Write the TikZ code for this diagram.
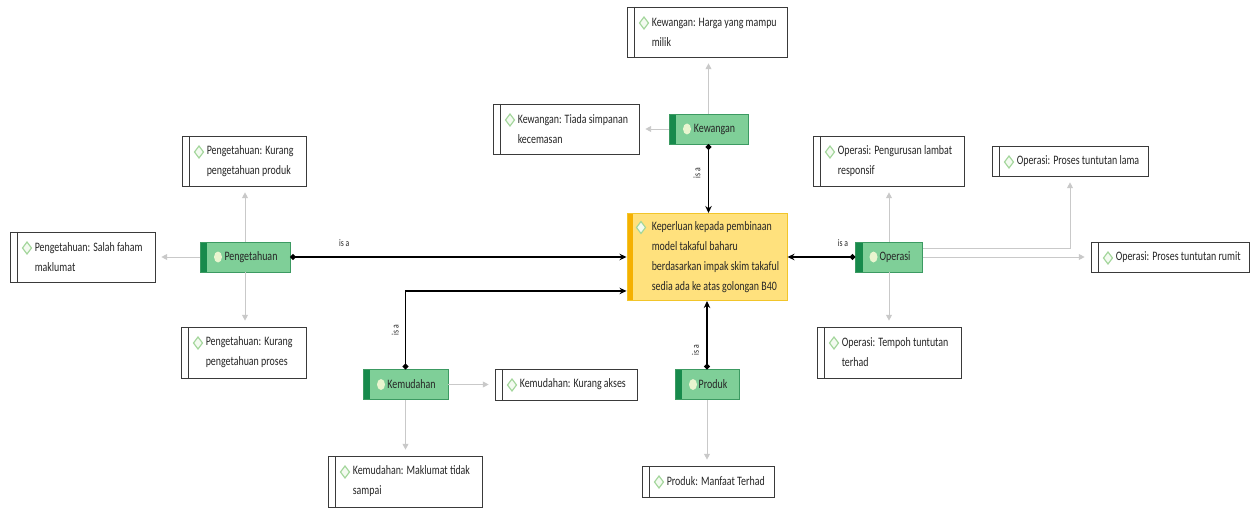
\documentclass[tikz,border=0pt]{standalone}
\usepackage{fontspec}
\setmainfont{Carlito}[FakeStretch=0.77]
\usetikzlibrary{arrows.meta}

\definecolor{catfill}{HTML}{7FCF98}
\definecolor{catdark}{HTML}{178A4C}
\definecolor{catline}{HTML}{3C9A62}
\definecolor{caticon}{HTML}{E9F5CF}
\definecolor{corefill}{HTML}{FFE17D}
\definecolor{coredark}{HTML}{F5B000}
\definecolor{coreline}{HTML}{F2C52A}
\definecolor{leafline}{HTML}{3A3A3A}
\definecolor{diamline}{HTML}{A3D69B}
\definecolor{diamfill}{HTML}{F3FAF0}
\definecolor{subline}{HTML}{C9C9C9}
\definecolor{txt}{HTML}{262626}

\begin{document}
\begin{tikzpicture}[x=0.03cm, y=-0.03cm,
  font=\fontsize{11}{17}\selectfont, text=txt,
  diam/.style={draw=diamline, fill=diamfill, line width=1pt},
  leaftext/.style={anchor=west, xshift=25*\pw, align=left, inner sep=0pt, text=txt},
  leaf/.style={draw=leafline, fill=white, line width=0.8pt, inner sep=0pt, minimum height=30*\pw,
    path picture={
      \draw[leafline, line width=0.6pt] ([xshift=7*\pw]path picture bounding box.north west) -- ([xshift=7*\pw]path picture bounding box.south west);
      \draw[diam] ([shift={(17*\pw,-10*\pw)}]path picture bounding box.north west) -- ++(4.5*\pw,-6*\pw) -- ++(-4.5*\pw,-6*\pw) -- ++(-4.5*\pw,6*\pw) -- cycle;
    }},
  grp/.style={draw=catline, fill=catfill, line width=0.6pt, minimum height=30*\pw, inner xsep=0pt,
    execute at begin node={\hspace*{0.36cm}},
    path picture={
      \fill[catdark] (path picture bounding box.north west) rectangle ([xshift=7*\pw]path picture bounding box.south west);
      \fill[caticon] ([xshift=18*\pw]path picture bounding box.west) ellipse [x radius=4*\pw, y radius=5.5*\pw];
    }},
  core/.style={draw=coreline, fill=corefill, line width=0.8pt, minimum width=160*\pw, minimum height=87*\pw,
    path picture={
      \fill[coredark] (path picture bounding box.north west) rectangle ([xshift=6*\pw]path picture bounding box.south west);
      \draw[diam] ([shift={(14*\pw,-8*\pw)}]path picture bounding box.north west) -- ++(4.5*\pw,-6*\pw) -- ++(-4.5*\pw,-6*\pw) -- ++(-4.5*\pw,6*\pw) -- cycle;
    }},
  isa/.style={draw=black, line width=1.6pt, {Circle[length=4.5pt]}-{Stealth[length=6pt,width=5.5pt]}},
  isalbl/.style={font=\fontsize{8.5}{9}\selectfont, text=txt, inner sep=1pt},
  sub/.style={draw=subline, line width=0.8pt, shorten >=5pt, -{Triangle[length=5pt,width=5pt]}}]
% one pixel of the reference
\def\pw{0.03cm}

\useasboundingbox[fill=white] (0,0) rectangle (1251,510);

% Centre node
\node[core] (core) at (707,257) {};
\node[leaftext] (coret) at (core.west) {Keperluan kepada pembinaan\\model takaful baharu\\berdasarkan impak skim takaful\\sedia ada ke atas golongan B40};

% Groups
\node[grp, minimum width=79*\pw] (kew) at (708.5,129) {Kewangan};
\node[grp, minimum width=90*\pw] (pen) at (245,257) {Pengetahuan};
\node[grp, minimum width=67*\pw] (ope) at (889,257) {Operasi};
\node[grp, minimum width=85*\pw] (kem) at (405.5,384.5) {Kemudahan};
\node[grp, minimum width=64*\pw] (pro) at (707,384.5) {Produk};

% Leaves
\node[leaf, minimum width=160*\pw, minimum height=50*\pw, label={[leaftext]west:{Kewangan: Harga yang mampu\\milik}}] (kewA) at (707,32) {};
\node[leaf, minimum width=146*\pw, minimum height=50*\pw, label={[leaftext]west:{Kewangan: Tiada simpanan\\kecemasan}}] (kewB) at (566,129) {};
\node[leaf, minimum width=124*\pw, minimum height=50*\pw, label={[leaftext]west:{Pengetahuan: Kurang\\pengetahuan produk}}] (penA) at (244,161) {};
\node[leaf, minimum width=145*\pw, minimum height=50*\pw, label={[leaftext]west:{Pengetahuan: Salah faham\\maklumat}}] (penB) at (82.5,257) {};
\node[leaf, minimum width=125*\pw, minimum height=51*\pw, label={[leaftext]west:{Pengetahuan: Kurang\\pengetahuan proses}}] (penC) at (243.5,352.5) {};
\node[leaf, minimum width=142*\pw, minimum height=31*\pw, label={[leaftext]west:{Kemudahan: Kurang akses}}] (kemA) at (566,384.5) {};
\node[leaf, minimum width=154*\pw, minimum height=51*\pw, label={[leaftext]west:{Kemudahan: Maklumat tidak\\sampai}}] (kemB) at (405,481.5) {};
\node[leaf, minimum width=132*\pw, minimum height=31*\pw, label={[leaftext]west:{Produk: Manfaat Terhad}}] (proA) at (708,481.5) {};
\node[leaf, minimum width=151*\pw, minimum height=50*\pw, label={[leaftext]west:{Operasi: Pengurusan lambat\\responsif}}] (opeA) at (888.5,161) {};
\node[leaf, minimum width=156*\pw, minimum height=30*\pw, label={[leaftext]west:{Operasi: Proses tuntutan lama}}] (opeB) at (1070,161) {};
\node[leaf, minimum width=158*\pw, minimum height=30*\pw, label={[leaftext]west:{Operasi: Proses tuntutan rumit}}] (opeC) at (1170,257) {};
\node[leaf, minimum width=144*\pw, minimum height=51*\pw, label={[leaftext]west:{Operasi: Tempoh tuntutan\\terhad}}] (opeD) at (889,352.5) {};

% is a links
\draw[isa] (pen.east) -- node[isalbl, pos=0.16, above=7pt] {is a} (core.west);
\draw[isa] (ope.west) -- node[isalbl, pos=0.18, above=7pt] {is a} (core.east);
\draw[isa] (kew.south) -- node[isalbl, pos=0.42, rotate=90, above=5pt] {is a} (kew.south |- core.north);
\draw[isa] (pro.north) -- node[isalbl, pos=0.28, rotate=90, above=5pt] {is a} (pro.north |- core.south);
\draw[isa] (kem.north) |- node[isalbl, pos=0.25, rotate=90, above=4pt] {is a} ([yshift=10*\pw]core.south west);

% sub links
\draw[sub] (kew.north) -- (kew.north |- kewA.south);
\draw[sub] (kew.west) -- (kewB.east);
\draw[sub] (pen.north) -- (pen.north |- penA.south);
\draw[sub] (pen.west) -- (penB.east);
\draw[sub] (pen.south) -- (pen.south |- penC.north);
\draw[sub] (kem.east) -- (kemA.west);
\draw[sub] (kem.south) -- (kem.south |- kemB.north);
\draw[sub] (pro.south) -- (pro.south |- proA.north);
\draw[sub] (ope.north) -- (ope.north |- opeA.south);
\draw[sub] ([yshift=9*\pw]ope.east) -| (opeB.south);
\draw[sub] (ope.east) -- (opeC.west);
\draw[sub] (ope.south) -- (ope.south |- opeD.north);
\end{tikzpicture}
\end{document}
